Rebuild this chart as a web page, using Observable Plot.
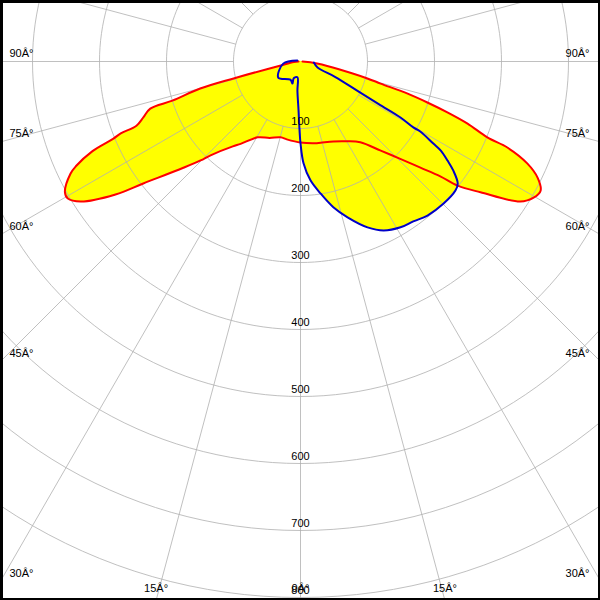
<!DOCTYPE html>
<html>
<head>
<meta charset="utf-8">
<script src="https://cdn.jsdelivr.net/npm/d3@7"></script>
<script src="https://cdn.jsdelivr.net/npm/@observablehq/plot@0.6"></script>
<style>
html, body { margin: 0; padding: 0; background: #fff; overflow: hidden; }
</style>
</head>
<body>
<div id="chart"></div>
<script>
// ---- Data: luminous intensity (cd) by angle (deg from nadir; negative = left) ----
const redAngles = [-90, -85, -78.7, -75.8, -74.9, -73, -72.6, -70.4, -68.6, -68.2, -67.6, -66.7, -65, -64, -61, -59.5, -57.5, -54.3, -52.2, -47.8, -45.3, -43.8, -38.6, -36, -29.5, -22, -14.7, -10, 0,
                   10, 13.9, 22.4, 30.4, 36.5, 42, 45.7, 48.5, 50.6, 51.7, 54, 57.5, 59.7, 61.7, 63.9, 65.8, 67.4, 67.9, 69.6, 70.9, 72.1, 73.3, 74.6, 75.8, 83, 90];
const redValues = [3, 10, 30, 103, 155, 200, 235, 249, 263, 289, 302, 338, 370, 382, 402, 403, 389, 340, 297, 236, 210, 194, 162, 152, 130, 123, 117, 118, 121,
                   124, 125, 129, 138, 150, 179, 208, 239, 270, 299, 332, 389, 403, 407, 394, 371, 335, 301, 266, 232, 199, 167, 124, 103, 25, 3];

const blueAngles = [-108, -83, -54, -29, -20, -22, -11, -6, -2.3, -0.8, 0, 1.7, 4.8, 8.6, 12.7, 16.8, 22, 26.2, 31.1, 35.2, 39.5, 45.2, 50.2, 52.2, 54.5, 56, 57.6, 58.3, 59.7, 59.7, 60.75, 61.4, 62.8, 66, 70.6, 85.6];
const blueValues = [5, 26, 41, 31, 35, 27, 24, 44, 73, 103, 122, 152, 178, 199, 223, 243, 267, 281, 289, 292, 298, 301, 301, 297, 280, 265, 248, 233, 207, 195, 171, 133, 95, 57, 27, 20];

const radiusTicks = [100, 200, 300, 400, 500, 600, 700, 800];
const radiusLabels = ["100", "200", "300", "400", "500", "600", "700", "800"];
const gridAngles = [0, 15, 30, 45, 60, 75, 90, 105, 120, 135, 150, 165, 180, 195, 210, 225, 240, 255, 270, 285, 300, 315, 330, 345];
const angleTicks = [-90, -75, -60, -45, -30, -15, 0, 15, 30, 45, 60, 75, 90];
const angleLabels = ["90Â°", "75Â°", "60Â°", "45Â°", "30Â°", "15Â°", "0Â°", "15Â°", "30Â°", "45Â°", "60Â°", "75Â°", "90Â°"];

// ---- Layout ----
const W = 600, H = 600;
const CX = 300, CY = 61, PX_PER_CD = 0.67;
const xMax = CX / PX_PER_CD;
const yMin = -CY / PX_PER_CD;
const yMax = (H - CY) / PX_PER_CD;
const FONT = "Liberation Sans, Arial, sans-serif";

const rad = d => d * Math.PI / 180;
const polar = (angles, values) => angles.map((a, i) => ({x: values[i] * Math.sin(rad(a)), y: values[i] * Math.cos(rad(a))}));

const red = polar(redAngles, redValues);
const blue = polar(blueAngles, blueValues);

const circles = radiusTicks.flatMap(r => d3.range(0, 361, 2).map(a => ({r, x: r * Math.sin(rad(a)), y: r * Math.cos(rad(a))})));
const spokes = gridAngles.map(a => ({
  x1: radiusTicks[0] * Math.sin(rad(a)), y1: radiusTicks[0] * Math.cos(rad(a)),
  x2: 2000 * Math.sin(rad(a)), y2: 2000 * Math.cos(rad(a))
}));

const rLabels = radiusTicks.map((r, i) => ({x: 0, y: r, text: radiusLabels[i]}));

const leftL = [], rightL = [], bottomL = [];
angleTicks.forEach((a, i) => {
  const s = Math.sin(rad(a)), c = Math.cos(rad(a));
  const tSide = Math.abs(s) > 1e-9 ? xMax / Math.abs(s) : Infinity;
  const tBottom = c > 1e-9 ? yMax / c : Infinity;
  if (tSide <= tBottom) {
    const d = {x: Math.sign(s) * xMax, y: tSide * c, text: angleLabels[i]};
    (s < 0 ? leftL : rightL).push(d);
  } else {
    bottomL.push({x: tBottom * s, y: yMax, text: angleLabels[i]});
  }
});

const fillColor = "#ffff00";
const gridColor = "#b0b0b0";

const chart = Plot.plot({
  width: W, height: H,
  margin: 0,
  style: {background: "#fff", overflow: "hidden"},
  x: {domain: [-xMax, xMax], range: [0, W], axis: null},
  y: {domain: [yMin, yMax], range: [0, H], axis: null},
  marks: [
    Plot.line(red, {x: "x", y: "y", fill: fillColor, stroke: "none", curve: "catmull-rom"}),
    Plot.line(blue, {x: "x", y: "y", fill: fillColor, stroke: "none", curve: "catmull-rom"}),
    Plot.line(circles, {x: "x", y: "y", z: "r", stroke: gridColor, strokeOpacity: 0.8, strokeWidth: 1, clip: true}),
    Plot.link(spokes, {x1: "x1", y1: "y1", x2: "x2", y2: "y2", stroke: gridColor, strokeOpacity: 0.8, strokeWidth: 1, clip: true}),
    Plot.line(red, {x: "x", y: "y", stroke: "#ff0000", strokeWidth: 2, curve: "catmull-rom"}),
    Plot.line(blue, {x: "x", y: "y", stroke: "#0000c8", strokeWidth: 2, curve: "catmull-rom"}),
    Plot.text(rLabels, {x: "x", y: "y", text: "text", dy: -7, fill: "#000", fontSize: 11, fontFamily: FONT, textAnchor: "middle"}),
    Plot.text(leftL, {x: "x", y: "y", text: "text", dx: 9, dy: -8, fill: "#000", fontSize: 11, fontFamily: FONT, textAnchor: "start"}),
    Plot.text(rightL, {x: "x", y: "y", text: "text", dx: -11, dy: -8, fill: "#000", fontSize: 11, fontFamily: FONT, textAnchor: "end"}),
    Plot.text(bottomL, {x: "x", y: "y", text: "text", dy: -12, fill: "#000", fontSize: 11, fontFamily: FONT, textAnchor: "middle"}),
    Plot.frame({stroke: "#000", strokeWidth: 5})
  ]
});
document.getElementById("chart").appendChild(chart);
</script>
</body>
</html>
